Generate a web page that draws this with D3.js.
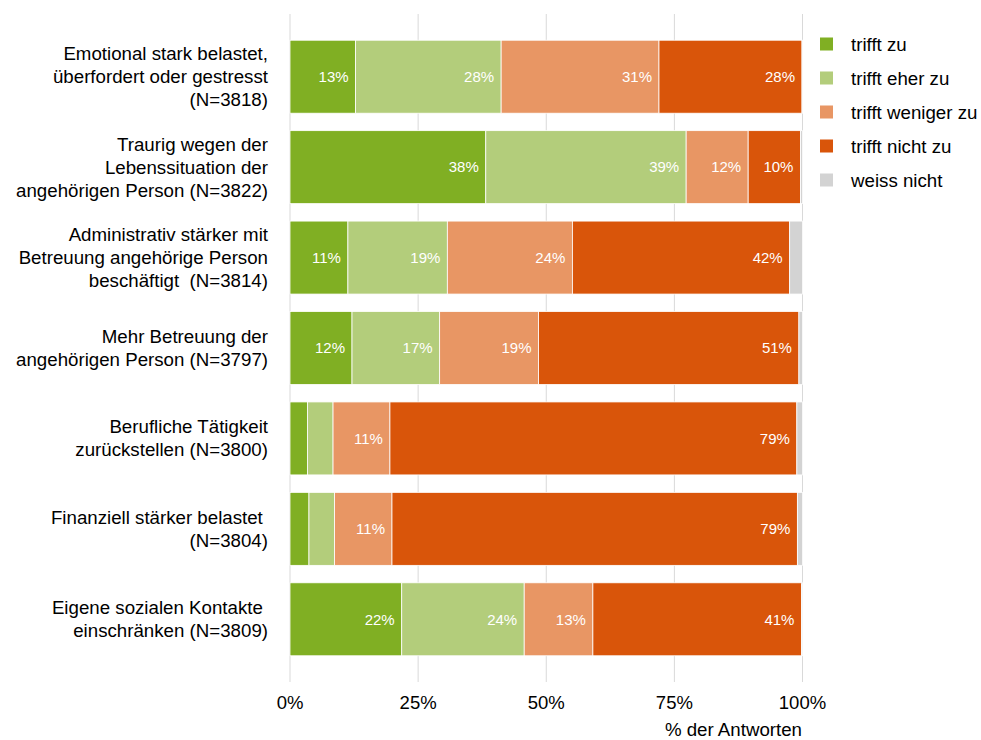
<!DOCTYPE html>
<html><head><meta charset="utf-8">
<script src="https://cdn.jsdelivr.net/npm/d3@7"></script>
<style>
body{margin:0;background:#fff;}
svg{font-family:"Liberation Sans",Arial,sans-serif;}
text{white-space:pre;}
</style></head>
<body>
<svg id="chart" width="981" height="740"></svg>
<script>
const categories = [
  ["Emotional stark belastet,", "überfordert oder gestresst", "(N=3818)"],
  ["Traurig wegen der", "Lebenssituation der", "angehörigen Person (N=3822)"],
  ["Administrativ stärker mit", "Betreuung angehörige Person", "beschäftigt  (N=3814)"],
  ["Mehr Betreuung der", "angehörigen Person (N=3797)"],
  ["Berufliche Tätigkeit", "zurückstellen (N=3800)"],
  ["Finanziell stärker belastet ", "(N=3804)"],
  ["Eigene sozialen Kontakte ", "einschränken (N=3809)"]
];
const seriesNames = ["trifft zu", "trifft eher zu", "trifft weniger zu", "trifft nicht zu", "weiss nicht"];
const trifftZu        = [12.8, 38.2, 11.3, 12.1, 3.4, 3.7, 21.8];
const trifftEherZu    = [28.4, 39.1, 19.4, 17.1, 5.0, 5.0, 23.9];
const trifftWenigerZu = [30.8, 12.1, 24.4, 19.3, 11.1, 11.2, 13.4];
const trifftNichtZu   = [27.9, 10.2, 42.4, 50.8, 79.4, 79.1, 40.7];
const weissNicht      = [0.1, 0.4, 2.5, 0.7, 1.1, 1.0, 0.2];
const xTicks = [0, 25, 50, 75, 100];
const xTitle = "% der Antworten";
const colors = ["#80af23", "#b3cd7b", "#e89664", "#d9550a", "#d3d3d3"];

const seriesValues = [trifftZu, trifftEherZu, trifftWenigerZu, trifftNichtZu, weissNicht];
const rows = categories.map((c, i) => {
  const r = {idx: i};
  seriesNames.forEach((s, j) => r[s] = seriesValues[j][i]);
  return r;
});

const FS = 18.7;
const svg = d3.select("#chart");
const x = d3.scaleLinear().domain([0, 100]).range([290, 802.5]);
const y = d3.scaleBand().domain(d3.range(categories.length)).range([14, 682])
  .paddingInner(0.193).paddingOuter(0.29);

// gridlines
svg.append("g").selectAll("line").data(xTicks).join("line")
  .attr("x1", d => x(d)).attr("x2", d => x(d))
  .attr("y1", 14).attr("y2", 682)
  .attr("stroke", "#d9d9d9").attr("stroke-width", 1);

const stack = d3.stack().keys(seriesNames)(rows);
const g = svg.append("g");
stack.forEach((layer, j) => {
  g.append("g").selectAll("rect").data(layer).join("rect")
    .attr("x", d => x(d[0]))
    .attr("width", d => Math.max(0, x(d[1]) - x(d[0])))
    .attr("y", (d, i) => y(i))
    .attr("height", y.bandwidth())
    .attr("fill", colors[j])
    .attr("stroke", "#fff").attr("stroke-width", 0.8);
  if (j < 4) {
    g.append("g").selectAll("text").data(layer.filter(d => d[1] - d[0] >= 9.5)).join("text")
      .attr("x", d => x(d[1]) - 7)
      .attr("y", d => y(d.data.idx) + y.bandwidth() / 2)
      .attr("dy", "0.35em")
      .attr("text-anchor", "end")
      .attr("fill", "#fff")
      .attr("font-size", 15)
      .text(d => Math.round(d[1] - d[0]) + "%");
  }
});

// category labels
const lh = 23;
categories.forEach((lines, i) => {
  const cy = y(i) + y.bandwidth() / 2;
  const t = svg.append("text").attr("text-anchor", "end").attr("font-size", FS).attr("fill", "#000");
  lines.forEach((l, k) => {
    t.append("tspan").attr("x", 268)
      .attr("y", cy + (k - (lines.length - 1) / 2) * lh)
      .attr("dy", "0.35em").text(l);
  });
});

// x axis labels
svg.append("g").selectAll("text").data(xTicks).join("text")
  .attr("x", d => x(d)).attr("y", 703).attr("dy", "0.35em")
  .attr("text-anchor", "middle").attr("font-size", 18.5).attr("fill", "#000")
  .text(d => d + "%");
svg.append("text").attr("x", 802).attr("y", 729).attr("dy", "0.35em")
  .attr("text-anchor", "end").attr("font-size", FS).attr("fill", "#000").text(xTitle);

// legend
const leg = svg.append("g");
seriesNames.forEach((s, j) => {
  const cy = 44 + j * 34;
  leg.append("rect").attr("x", 820).attr("y", cy - 6.5).attr("width", 13).attr("height", 13).attr("fill", colors[j]);
  leg.append("text").attr("x", 851).attr("y", cy).attr("dy", "0.35em")
    .attr("font-size", FS).attr("fill", "#000").text(s);
});
</script>
</body></html>
